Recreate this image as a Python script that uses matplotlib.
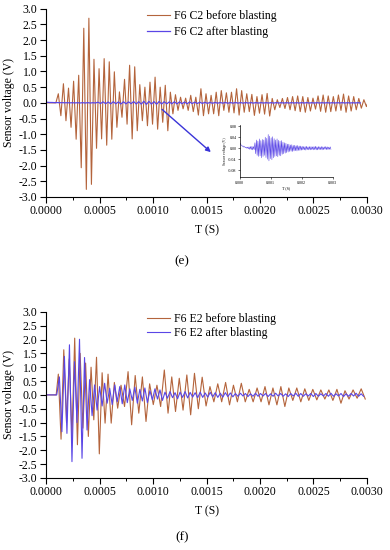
import numpy as np
import matplotlib
matplotlib.use("Agg")
import matplotlib.pyplot as plt
from matplotlib.ticker import MultipleLocator, FuncFormatter

plt.rcParams['font.family'] = ['Liberation Serif', 'DejaVu Serif']

# ── data: crest / trough of every cycle (V) ──────────────────────────────────

# (e) F6 C2
c2_before_onset = 0.000092      # s
c2_before_first = 0.000115      # s, first crest
c2_before_period_t = [0.0, 0.003]
c2_before_period = [0.0000476, 0.0000476]
c2_before_max = [0.29, 0.61, 0.47, 0.69, 0.88, 2.38, 2.70, 1.39, 1.09, 1.41,
                 1.31, 0.99, 0.35, 0.75, 1.20, 1.15, 0.58, 0.50, 0.66, 0.82,
                 0.50, 0.56, 0.34, 0.26, 0.18, 0.15, 0.24, 0.18, 0.45, 0.29,
                 0.24, 0.34, 0.39, 0.32, 0.34, 0.45, 0.39, 0.29, 0.27, 0.20,
                 0.26, 0.30, 0.14, 0.10, 0.14, 0.17, 0.20, 0.22, 0.20, 0.17,
                 0.15, 0.22, 0.25, 0.22, 0.20, 0.25, 0.28, 0.22, 0.20, 0.14,
                 0.10, 0.12]
c2_before_min = [-0.41, -0.57, -0.78, -1.16, -2.07, -2.76, -2.60, -1.45, -1.15, -1.35,
                 -1.16, -0.78, -0.46, -0.68, -1.15, -0.89, -0.57, -0.73, -0.68, -0.84,
                 -0.62, -0.89, -0.35, -0.24, -0.19, -0.24, -0.28, -0.39, -0.41, -0.35,
                 -0.35, -0.41, -0.24, -0.30, -0.32, -0.39, -0.30, -0.28, -0.40, -0.33,
                 -0.36, -0.42, -0.22, -0.15, -0.18, -0.22, -0.25, -0.28, -0.30, -0.26,
                 -0.20, -0.27, -0.30, -0.28, -0.26, -0.24, -0.30, -0.26, -0.22, -0.17,
                 -0.12, -0.10]

c2_after_first = 0.00001
c2_after_period_t = [0.0, 0.003]
c2_after_period = [0.0000476, 0.0000476]
c2_after_max = [0.018, 0.011, 0.008, 0.006, 0.004, 0.004, 0.005, 0.006, 0.007, 0.006,
                0.020, 0.030, 0.026, 0.034, 0.028, 0.032, 0.030,
                0.040, 0.036, 0.050, 0.044, 0.038, 0.042, 0.035,
                0.030, 0.034, 0.029, 0.026, 0.028, 0.022, 0.020, 0.018, 0.015, 0.015,
                0.012, 0.013, 0.010, 0.011, 0.009, 0.010, 0.008, 0.008,
                0.007, 0.006, 0.006, 0.007, 0.005, 0.006, 0.006, 0.005, 0.006, 0.007,
                0.005, 0.006, 0.005, 0.006, 0.005, 0.005, 0.006, 0.005, 0.004, 0.005]
c2_after_min = [0.012, 0.007, 0.004, 0.002, 0.000, -0.002, -0.004, -0.005, -0.006, -0.005,
                -0.020, -0.026, -0.030, -0.028, -0.035, -0.030, -0.026,
                -0.034, -0.040, -0.046, -0.038, -0.042, -0.035, -0.030,
                -0.028, -0.031, -0.026, -0.028, -0.022, -0.020, -0.018, -0.016, -0.014, -0.012,
                -0.011, -0.012, -0.010, -0.009, -0.010, -0.008, -0.008, -0.007,
                -0.006, -0.006, -0.007, -0.005, -0.006, -0.006, -0.005, -0.006, -0.005, -0.006,
                -0.006, -0.005, -0.005, -0.006, -0.005, -0.004, -0.005, -0.005, -0.004, -0.004]

# (f) F6 E2
e2_before_onset = 0.000095
e2_before_first = 0.000115
e2_before_period_t = [0.0, 0.00045, 0.0007, 0.0015, 0.003]
e2_before_period = [0.000051, 0.000051, 0.000066, 0.000073, 0.000076]
e2_before_max = [0.75, 1.63, 1.30, 2.05, 1.50, 1.15, 1.00, 1.36, 0.80, 0.75,
                 0.45, 0.35, 0.84, 0.70, 0.65, 0.40, 0.35, 0.90, 0.65, 0.60,
                 0.72, 0.78, 0.64, 0.30, 0.40, 0.45, 0.35, 0.42, 0.20, 0.25,
                 0.30, 0.25, 0.30, 0.25, 0.25, 0.22, 0.20, 0.18, 0.18, 0.20,
                 0.15, 0.18, 0.22]
e2_before_min = [-1.60, -1.00, -1.50, -1.80, -1.20, -1.50, -0.90, -2.13, -1.02, -1.02,
                 -0.48, -0.42, -1.08, -0.66, -0.96, -0.35, -0.42, -0.66, -0.60, -0.55,
                 -0.72, -0.50, -0.40, -0.25, -0.25, -0.36, -0.25, -0.25, -0.25, -0.25,
                 -0.36, -0.36, -0.42, -0.20, -0.25, -0.20, -0.18, -0.15, -0.20, -0.30,
                 -0.15, -0.12, -0.15]

e2_after_onset = 0.000100
e2_after_first = 0.000125
e2_after_period_t = [0.0, 0.003]
e2_after_period = [0.000047, 0.000047]
e2_after_max = [0.65, 1.39, 1.81, 1.20, 2.01, 1.35, 0.55, 0.36, 0.30, 0.42,
                0.24, 0.36, 0.30, 0.36, 0.22, 0.28, 0.20, 0.25, 0.15, 0.22, 0.18,
                0.10, 0.12, 0.08, 0.10, 0.12, 0.09, 0.08, 0.10, 0.07, 0.09, 0.08, 0.06, 0.08, 0.07,
                0.05, 0.06, 0.05, 0.04, 0.06, 0.05, 0.05, 0.04, 0.06, 0.05, 0.04, 0.05, 0.06,
                0.05, 0.04, 0.05, 0.05, 0.04, 0.05, 0.06, 0.04, 0.05, 0.04, 0.05, 0.06, 0.04]
e2_after_min = [-1.33, -1.39, -2.41, -1.00, -2.29, -1.27, -0.75, -0.55, -0.40, -0.30,
                -0.35, -0.25, -0.32, -0.28, -0.20, -0.30, -0.22, -0.28, -0.18, -0.15, -0.20,
                -0.12, -0.10, -0.14, -0.09, -0.11, -0.08, -0.10, -0.09, -0.08, -0.07, -0.09, -0.08, -0.06, -0.07,
                -0.05, -0.04, -0.06, -0.05, -0.05, -0.04, -0.06, -0.05, -0.04, -0.05, -0.06, -0.04, -0.05,
                -0.05, -0.04, -0.06, -0.05, -0.04, -0.05, -0.05, -0.04, -0.06, -0.05, -0.04, -0.05, -0.05]

BROWN = "#b4643c"
BLUE = "#5a46e6"


def trace(first, period_t, period, peaks, troughs, onset=None):
    """Zig-zag through the read crests/troughs, stepping one cycle at a time."""
    t, y = ([0.0, onset], [0.0, 0.0]) if onset is not None else ([], [])
    tc = first
    for hi, lo in zip(peaks, troughs):
        p = np.interp(tc, period_t, period)
        t += [tc, tc + p / 2]
        y += [hi, lo]
        tc += p
    return np.array(t), np.array(y)


def style_main(ax):
    ax.set_xlim(0, 0.003)
    ax.set_ylim(-3, 3)
    for s in ("top", "right"):
        ax.spines[s].set_visible(False)
    ax.xaxis.set_major_locator(MultipleLocator(0.0005))
    ax.xaxis.set_minor_locator(MultipleLocator(0.00025))
    ax.yaxis.set_major_locator(MultipleLocator(0.5))
    ax.xaxis.set_major_formatter(FuncFormatter(lambda v, _: f"{v:.4f}"))
    ax.yaxis.set_major_formatter(FuncFormatter(lambda v, _: f"{v:.1f}"))
    ax.tick_params(which="major", direction="out", length=4, width=0.8,
                   labelsize=8.5, pad=2)
    ax.tick_params(which="minor", direction="out", length=2, width=0.7)
    ax.set_xlabel("T (S)", fontsize=8.5, labelpad=5)
    ax.set_ylabel("Sensor voltage (V)", fontsize=8.5, labelpad=3)


fig = plt.figure(figsize=(3.9, 5.5), dpi=100)

# ── (e) ──────────────────────────────────────────────────────────────────────
ax1 = fig.add_axes([0.118, 0.642, 0.823, 0.342])
t, y = trace(c2_before_first, c2_before_period_t, c2_before_period,
             c2_before_max, c2_before_min, onset=c2_before_onset)
ax1.plot(t, y, color=BROWN, lw=0.8, label="F6 C2 before blasting")
t2, y2 = trace(c2_after_first, c2_after_period_t, c2_after_period,
               c2_after_max, c2_after_min)
ax1.plot(t2, y2, color=BLUE, lw=0.9, label="F6 C2 after blasting")
style_main(ax1)
ax1.legend(loc="upper left", bbox_to_anchor=(0.31, 1.0), frameon=False,
           fontsize=8.5, handlelength=2.0, handletextpad=0.3,
           labelspacing=0.35, borderpad=0.1, borderaxespad=0)

ax1.annotate("", xy=(0.00156, -1.63), xytext=(0.001065, -0.15),
             arrowprops=dict(arrowstyle="-|>", color="#3a34d8", lw=1.0,
                             mutation_scale=7))

# inset
axi = fig.add_axes([0.615, 0.678, 0.2385, 0.095])
axi.plot(t2, y2, color=BLUE, lw=0.4)
axi.set_xlim(0, 0.003)
axi.set_ylim(-0.105, 0.085)
for s in ("top", "right"):
    axi.spines[s].set_visible(False)
for s in ("left", "bottom"):
    axi.spines[s].set_linewidth(0.5)
axi.set_xticks([0, 0.001, 0.002, 0.003])
axi.set_yticks([-0.08, -0.04, 0, 0.04, 0.08])
axi.xaxis.set_major_formatter(FuncFormatter(lambda v, _: f"{v:.3f}"))
axi.yaxis.set_major_formatter(FuncFormatter(lambda v, _: f"{v:.2f}"))
axi.tick_params(direction="out", length=1.5, width=0.4, labelsize=3, pad=1)
axi.set_xlabel("T (S)", fontsize=3, labelpad=1)
axi.set_ylabel("Sensor voltage (V)", fontsize=2.6, labelpad=1)

fig.text(182 / 390, 1 - 261 / 550, "(e)", fontsize=9.5, ha="center", va="center")

# ── (f) ──────────────────────────────────────────────────────────────────────
ax2 = fig.add_axes([0.118, 0.131, 0.823, 0.302])
t, y = trace(e2_before_first, e2_before_period_t, e2_before_period,
             e2_before_max, e2_before_min, onset=e2_before_onset)
ax2.plot(t, y, color=BROWN, lw=0.8, label="F6 E2 before blasting")
t, y = trace(e2_after_first, e2_after_period_t, e2_after_period,
             e2_after_max, e2_after_min, onset=e2_after_onset)
ax2.plot(t, y, color=BLUE, lw=0.8, label="F6 E2 after blasting")
style_main(ax2)
ax2.legend(loc="upper left", bbox_to_anchor=(0.31, 1.0), frameon=False,
           fontsize=8.5, handlelength=2.0, handletextpad=0.3,
           labelspacing=0.15, borderpad=0.1, borderaxespad=0)

fig.text(182 / 390, 1 - 537 / 550, "(f)", fontsize=9.5, ha="center", va="center")

fig.savefig("out.png", dpi=100)
